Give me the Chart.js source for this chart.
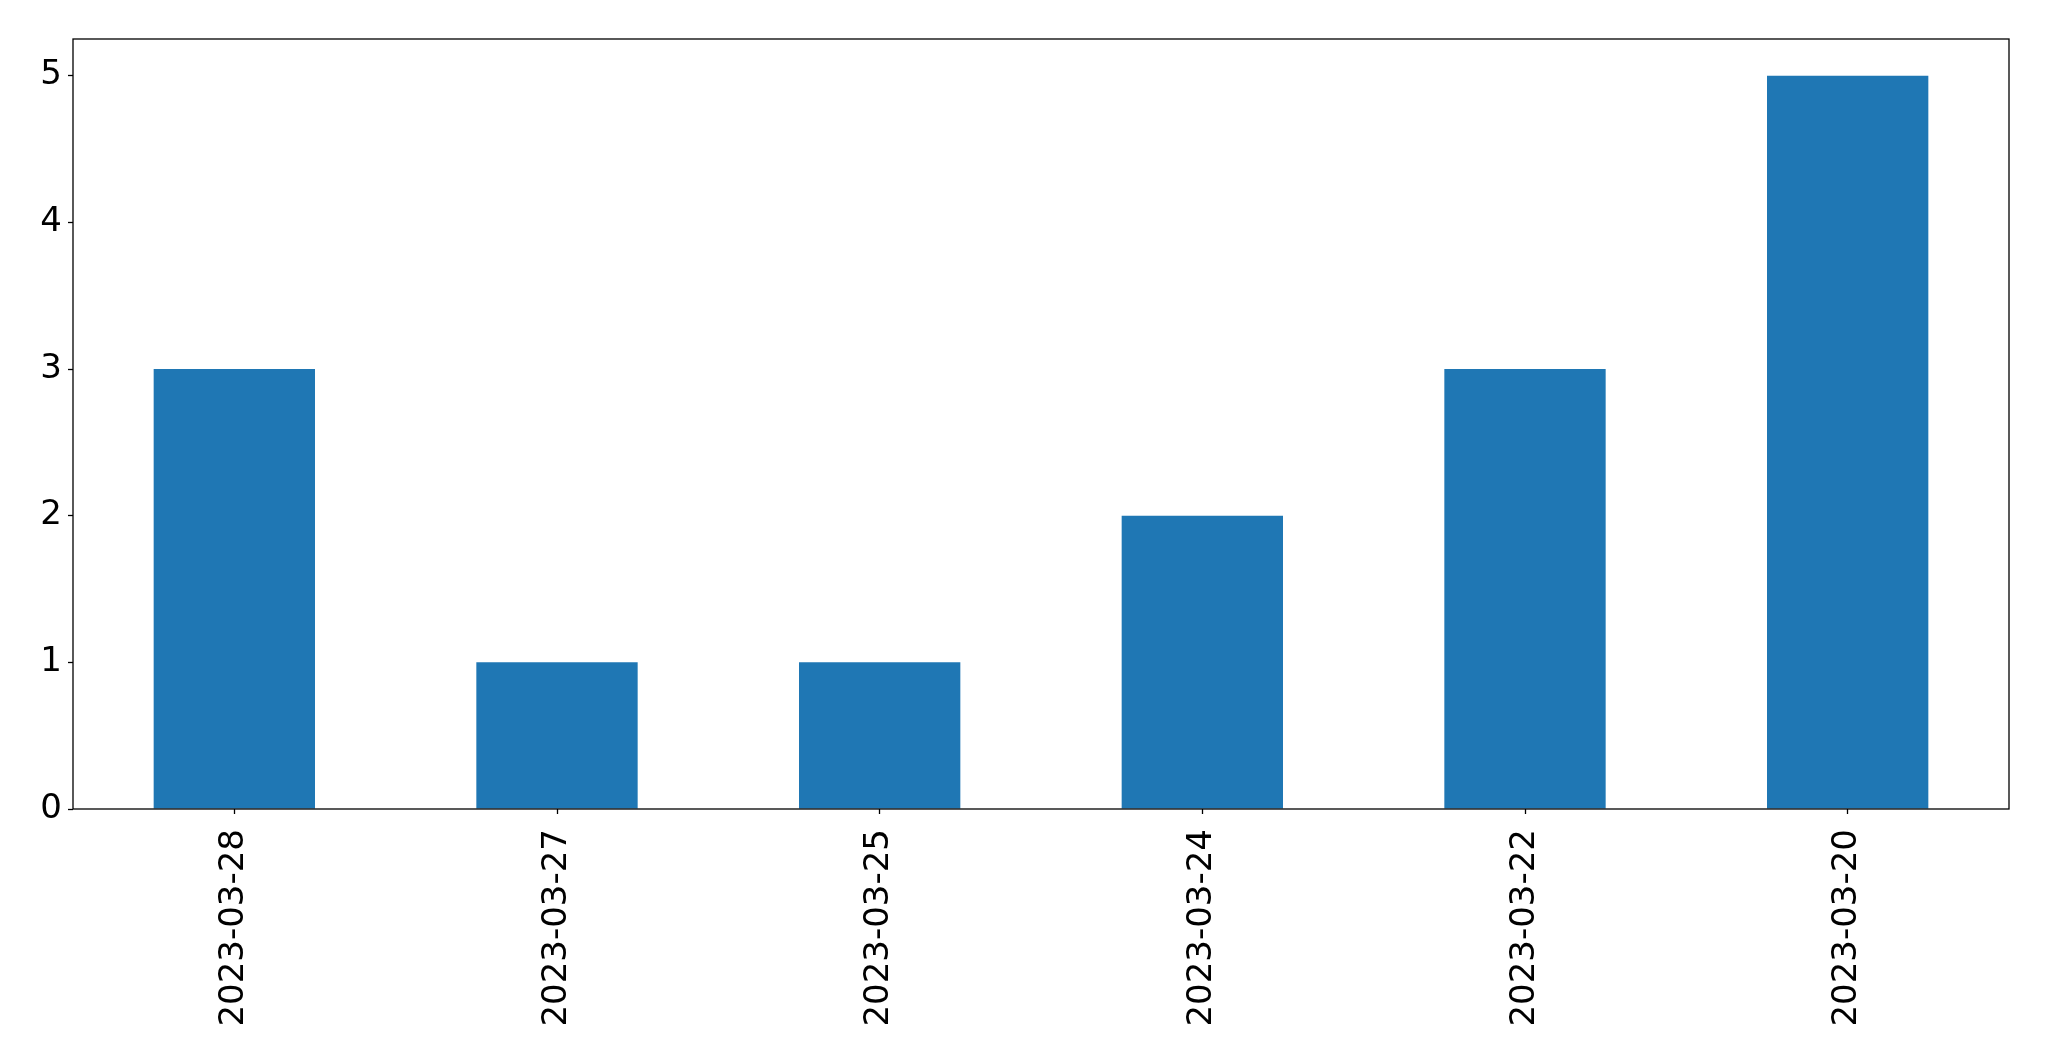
<!DOCTYPE html>
<html>
<head>
<meta charset="utf-8">
<script src="https://cdn.jsdelivr.net/npm/chart.js@4/dist/chart.umd.min.js"></script>
<style>
  html, body { margin: 0; padding: 0; background: #fff; }
  canvas { display: block; }
</style>
</head>
<body>
<canvas id="chart" width="2049" height="1061" style="width:2049px;height:1061px"></canvas>
<script>
const dates = ['2023-03-28', '2023-03-27', '2023-03-25', '2023-03-24', '2023-03-22', '2023-03-20'];
const counts = [3, 1, 1, 2, 3, 5];
const yTicks = [0, 1, 2, 3, 4, 5];

// black box round the plot area, like matplotlib's spines
const frame = {
  id: 'frame',
  afterDatasetsDraw(chart) {
    const a = chart.chartArea;
    const ctx = chart.ctx;
    ctx.save();
    ctx.strokeStyle = '#000';
    ctx.lineWidth = 1.3;
    ctx.strokeRect(a.left, a.top, a.right - a.left, a.bottom - a.top);
    ctx.restore();
  }
};

const ctx = document.getElementById('chart').getContext('2d');
new Chart(ctx, {
  type: 'bar',
  data: {
    labels: dates,
    datasets: [{
      data: counts,
      backgroundColor: '#1f77b4',
      borderWidth: 0,
      barPercentage: 0.5,
      categoryPercentage: 1.0
    }]
  },
  options: {
    responsive: false,
    animation: false,
    layout: { padding: { top: 39, right: 40, left: 0, bottom: 0 } },
    plugins: {
      legend: { display: false },
      tooltip: { enabled: false }
    },
    scales: {
      x: {
        grid: { offset: false, drawOnChartArea: false, drawTicks: true, tickLength: 5, tickColor: '#000', tickWidth: 1.3 },
        border: { display: false },
        ticks: {
          color: '#000',
          font: { family: 'DejaVu Sans', size: 34 },
          minRotation: 90,
          maxRotation: 90,
          padding: 15,
          autoSkip: false
        },
        afterFit(scale) { scale.height = 252; }
      },
      y: {
        min: 0,
        max: 5.25,
        grid: { drawOnChartArea: false, drawTicks: true, tickLength: 5, tickColor: '#000', tickWidth: 1.3 },
        border: { display: false },
        ticks: {
          color: '#000',
          font: { family: 'DejaVu Sans', size: 34 },
          padding: 6
        },
        afterBuildTicks(scale) { scale.ticks = yTicks.map(v => ({ value: v })); },
        afterFit(scale) { scale.width = 73; }
      }
    }
  },
  plugins: [frame]
});
</script>
</body>
</html>
